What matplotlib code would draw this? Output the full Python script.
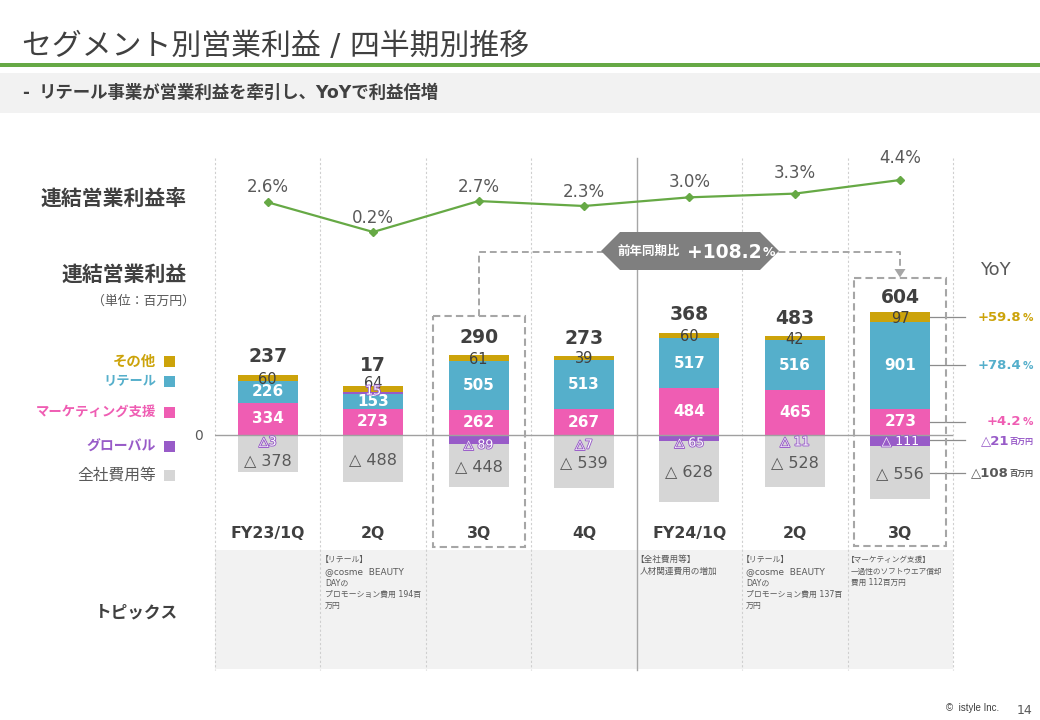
import numpy as np
import matplotlib
matplotlib.use("Agg")
import matplotlib.pyplot as plt
import matplotlib.patheffects as pe
from matplotlib.patches import Rectangle, Polygon

plt.rcParams['font.family'] = ['DejaVu Sans', 'Noto Sans CJK JP']

# ---- data ----
categories = ['FY23/1Q', '2Q', '3Q', '4Q', 'FY24/1Q', '2Q', '3Q']
other = [60, 64, 61, 39, 60, 42, 97]
retail = [226, 153, 505, 513, 517, 516, 901]
marketing = [334, 273, 262, 267, 484, 465, 273]
global_biz = [-3, 15, -89, -7, -65, -11, -111]
corporate = [-378, -488, -448, -539, -628, -528, -556]
totals = [237, 17, 290, 273, 368, 483, 604]
margin = [2.6, 0.2, 2.7, 2.3, 3.0, 3.3, 4.4]
legend_names = ['その他', 'リテール', 'マーケティング支援', 'グローバル', '全社費用等']
yoy_pct = ['+59.8', '+78.4', '+4.2']
yoy_abs = ['△21', '△108']
topics = [
    [],
    ['【リテール】', '@cosme  BEAUTY', 'DAYの', 'プロモーション費用 194百', '万円'],
    [],
    [],
    ['【全社費用等】', '人材関連費用の増加'],
    ['【リテール】', '@cosme  BEAUTY', 'DAYの', 'プロモーション費用 137百', '万円'],
    ['【マーケティング支援】', '一過性のソフトウエア償却', '費用 112百万円'],
]

# ---- style / layout ----
W, H = 1040, 720
GOLD, BLUE, PINK, PURPLE, GREY = '#CCA30A', '#55AFCB', '#EF5DB3', '#985BC8', '#D6D6D6'
GREEN = '#66A945'
DARK, MID = '#404040', '#595959'
PX_L, PX_R, PX_T, PX_B = 215, 953, 158, 550
ZERO_PX, SCALE = 435.0, 0.0965
MARGIN_A, MARGIN_B = 232.0, 180.0
# label tweaks, in pixels (positive = downward)
total_dy = [-19, -21, -18, -17, -18, -18, -15]
other_dy = [1, -6, 1, 1, 1, 1, 1]
global_y_px = [442, 391, 445, 445, 443, 442, 441.5]
corp_dy = [7, 1, 1, 1, 0, 1, 1]
margin_dy = [-15, -14, -14, -14, -15, -21, -22]

fig = plt.figure(figsize=(W / 100, H / 100), dpi=100, facecolor='white')


def full_axes(z):
    a = fig.add_axes([0, 0, 1, 1], zorder=z)
    a.set_xlim(0, W)
    a.set_ylim(H, 0)
    a.axis('off')
    return a


bg = full_axes(0)
fg = full_axes(5)
rect = [PX_L / W, 1 - PX_B / H, (PX_R - PX_L) / W, (PX_B - PX_T) / H]
ax = fig.add_axes(rect, zorder=1)
ax.patch.set_visible(False)
ax.set_xlim(-0.5, 6.5)
ax.set_ylim(-(PX_B - ZERO_PX) / SCALE, (ZERO_PX - PX_T) / SCALE)
for s in ax.spines.values():
    s.set_visible(False)

# header
fg.text(22, 46, 'セグメント別営業利益 / 四半期別推移', fontsize=21.5, color=DARK, va='center')
bg.add_patch(Rectangle((0, 63), W, 4, color=GREEN, lw=0))
bg.add_patch(Rectangle((0, 73), W, 40, color='#F2F2F2', lw=0))
fg.text(22, 93, '-', fontsize=12, color=DARK, va='center', fontweight='bold')
fg.text(39, 93, 'リテール事業が営業利益を牽引し、YoYで利益倍増', fontsize=12.55, color=DARK, va='center',
        fontweight='bold')

# background panel and gridlines
bg.add_patch(Rectangle((PX_L, 550), PX_R - PX_L, 119, color='#F2F2F2', lw=0))
for i in range(8):
    xp = PX_L + i * (PX_R - PX_L) / 7
    if i == 4:
        bg.plot([xp, xp], [158, 670], color='#A6A6A6', lw=1)
    else:
        bg.plot([xp, xp], [158, 670], color='#CFCFCF', lw=0.8, ls=(0, (2, 2)))

# bars
x = np.arange(len(categories))
mk, rt, ot = map(np.array, (marketing, retail, other))
gb, cp = np.array(global_biz), np.array(corporate)
gb_pos, gb_neg = np.maximum(gb, 0), np.minimum(gb, 0)
BW = 60 / ((PX_R - PX_L) / 7)
ax.bar(x, mk, BW, color=PINK, zorder=2)
ax.bar(x, rt, BW, bottom=mk, color=BLUE, zorder=2)
ax.bar(x, gb_pos, BW, bottom=mk + rt, color=PURPLE, zorder=2)
ax.bar(x, ot, BW, bottom=mk + rt + gb_pos, color=GOLD, zorder=2)
ax.bar(x, gb_neg, BW, color=PURPLE, zorder=2)
ax.bar(x, cp, BW, bottom=gb_neg, color=GREY, zorder=2)
ax.axhline(0, color='#A0A0A0', lw=1, zorder=3)

ax.set_xticks(x, categories, fontweight='bold', fontsize=11.3, color=DARK)
ax.set_yticks([0], ['0'], fontsize=10, color=MID)
ax.tick_params(axis='x', length=0, pad=-17)
ax.tick_params(axis='y', length=0, pad=9)


def lab(a, xv, yv, s, dy=0, **kw):
    kw.setdefault('ha', 'center')
    kw.setdefault('va', 'center')
    return a.annotate(s, (xv, yv), xytext=(0, -dy), textcoords='offset pixels',
                      annotation_clip=False, **kw)


outline = [pe.withStroke(linewidth=1.3, foreground=PURPLE)]
for i in x:
    top = mk[i] + rt[i] + gb_pos[i] + ot[i]
    lab(ax, i, top, str(totals[i]), total_dy[i], fontsize=13.5, fontweight='bold', color=DARK, zorder=6)
    lab(ax, i, mk[i] / 2, str(mk[i]), fontsize=11, fontweight='bold', color='white', zorder=6)
    lab(ax, i, mk[i] + rt[i] / 2, str(rt[i]), fontsize=11, fontweight='bold', color='white', zorder=6)
    lab(ax, i, top - ot[i] / 2, str(ot[i]), other_dy[i], fontsize=10.5, color=DARK, zorder=6)
    lab(ax, i, gb_neg[i] + cp[i] / 2, f'△ {-cp[i]}', corp_dy[i], fontsize=11.5, color=MID, zorder=6)
    gtxt = str(gb[i]) if gb[i] > 0 else (f'△ {-gb[i]}' if gb[i] < -10 else f'△{-gb[i]}')
    yv = (ZERO_PX - global_y_px[i]) / SCALE
    t = lab(ax, i, yv, gtxt, fontsize=9, color='white', zorder=6)
    t.set_path_effects(outline)

# margin line
lx = ax.twinx()
lx.set_zorder(2)
lx.patch.set_visible(False)
per = (MARGIN_A - MARGIN_B) / (margin[6] - margin[1])
lx.set_ylim(margin[1] - (PX_B - MARGIN_A) / per, margin[6] + (MARGIN_B - PX_T) / per)
lx.set_yticks([])
for s in lx.spines.values():
    s.set_visible(False)
lx.plot(x, margin, color=GREEN, lw=1.6, marker='D', ms=4, mec=GREEN, mfc=GREEN, clip_on=False)
for i in x:
    lab(lx, i, margin[i], f'{margin[i]:.1f}%', margin_dy[i], fontsize=12, color=MID)

# highlight boxes and connector
BOX = '#A6A6A6'
dash = (0, (3.5, 2))
fg.add_patch(Rectangle((433, 316), 91.5, 231, fill=False, ec=BOX, lw=1.5, ls=dash))
fg.add_patch(Rectangle((853.5, 278), 92, 268, fill=False, ec=BOX, lw=1.5, ls=dash))
fg.plot([478.5, 478.5, 900, 900], [316, 251.5, 251.5, 270], color=BOX, lw=1.4, ls=dash, zorder=1)
fg.add_patch(Polygon([(894.5, 269), (905.5, 269), (900, 277.5)], color=BOX, lw=0, zorder=1))
fg.add_patch(Polygon([(601, 251), (620, 232), (760, 232), (779, 251), (760, 270), (620, 270)],
                     color='#7F7F7F', lw=0, zorder=2))
fg.text(617, 251.5, '前年同期比', fontsize=9, fontweight='bold', color='white', va='center', zorder=3)
fg.text(762, 252, '+108.2', fontsize=13.5, fontweight='bold', color='white', va='center', ha='right', zorder=3)
fg.text(763, 253, '%', fontsize=9, fontweight='bold', color='white', va='center', ha='left', zorder=3)

# left captions
fg.text(187, 199, '連結営業利益率', fontsize=15, fontweight='bold', color=DARK, ha='right', va='center')
fg.text(187, 275, '連結営業利益', fontsize=15, fontweight='bold', color=DARK, ha='right', va='center')
fg.text(195, 301, '（単位：百万円）', fontsize=9.3, color=MID, ha='right', va='center')
fg.text(137, 612, 'トピックス', fontsize=12, fontweight='bold', color=DARK, ha='center', va='center')

# legend
leg_y = [361.7, 381.7, 412.6, 446.7, 475.5]
leg_c = [GOLD, BLUE, PINK, PURPLE, GREY]
leg_t = [GOLD, BLUE, PINK, PURPLE, MID]
leg_w = ['bold', 'bold', 'bold', 'bold', 'normal']
leg_s = [10.4, 9.5, 9.6, 10, 11.3]
for nm, yy, c, tc, w, fs in zip(legend_names, leg_y, leg_c, leg_t, leg_w, leg_s):
    fg.add_patch(Rectangle((163.5, yy - 5.5), 11, 11, color=c, lw=0))
    fg.text(156, yy, nm, fontsize=fs, fontweight=w, color=tc, ha='right', va='center')

# YoY column
fg.text(995.5, 270, 'YoY', fontsize=13, color=MID, ha='center', va='center')
centers = [mk[6] + rt[6] + ot[6] / 2, mk[6] + rt[6] / 2, mk[6] / 2, gb[6] / 2, gb[6] + cp[6] / 2]
cols = [GOLD, BLUE, PINK, PURPLE, MID]
for k, (v, c) in enumerate(zip(centers, cols)):
    bar_right = 6 + BW / 2
    ax.plot([bar_right, 6.5 + 12 / 105.4], [v, v], color='#8C8C8C', lw=0.9, clip_on=False, zorder=4)
    yp = ZERO_PX - v * SCALE
    if k < 3:
        fg.text(1021, yp, yoy_pct[k], fontsize=9.5, fontweight='bold', color=c, ha='right', va='center')
        fg.text(1033, yp + 0.5, '%', fontsize=7.5, fontweight='bold', color=c, ha='right', va='center')
    else:
        fg.text(1009, yp, yoy_abs[k - 3], fontsize=9.5, fontweight='bold', color=c, ha='right', va='center')
        fg.text(1033, yp + 1, '百万円', fontsize=5.8, fontweight='bold', color=c, ha='right', va='center')

# topics
topic_x = [219, 325, 430, 535, 640, 746, 851]
topic_fs = [6, 5.7, 6, 6, 6.2, 5.7, 5.5]
for tl, xp, fs in zip(topics, topic_x, topic_fs):
    for n, line in enumerate(tl):
        yy = 559 if n == 0 else 571.5 + 11.2 * (n - 1)
        off = -fs * 0.7 if line.startswith('【') else 0
        size = 6.4 if line.isascii() else fs
        fg.text(xp + off, yy, line, fontsize=size, color=MID, va='center', ha='left')

# footer
fg.text(999, 708, '©  istyle Inc.', fontsize=7, color=DARK, ha='right', va='center', family='Liberation Sans')
fg.text(1032, 710, '14', fontsize=9, color=MID, ha='right', va='center')

fig.savefig('out.png', dpi=100)
